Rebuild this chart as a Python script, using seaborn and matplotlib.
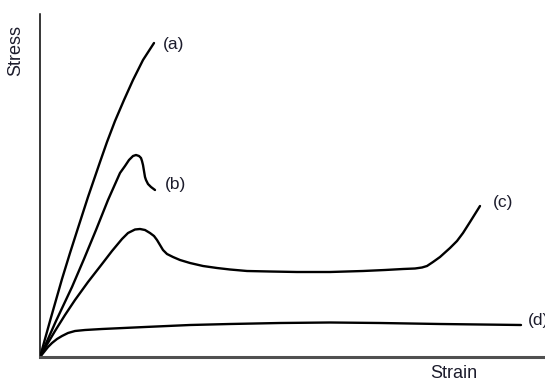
import pandas as pd
import matplotlib
matplotlib.use("Agg")
from matplotlib import pyplot as plt
import seaborn as sns

sns.set_style("white")
plt.rcParams["font.family"] = ["Liberation Sans", "DejaVu Sans"]

# curve values (strain, stress) in arbitrary units
a_x = [0, 5, 10, 16, 22, 30, 38, 48, 60, 67, 75, 84, 93, 103, 114]
a_y = [0, 18, 36, 57, 78, 104, 129, 160, 195, 215, 236, 257, 277, 297, 314]

b_x = [0, 8, 16, 24, 32, 44, 56, 68, 80, 85, 89, 93, 96, 99, 101, 102, 103, 104,
       105, 106, 108, 111, 115]
b_y = [0, 18, 36, 53, 70, 98, 127, 157, 184, 191, 197, 201, 202, 201, 199, 196,
       192, 186, 180, 177, 173, 170, 167]

c_x = [0, 7, 15, 25, 35, 48, 62, 72, 82, 88, 95, 100, 105, 110, 114, 117, 120, 123,
       127, 133, 140, 150, 163, 177, 190, 207, 230, 257, 290, 323, 345, 363, 375,
       382, 387, 393, 400, 410, 417, 423, 430, 435, 440]
c_y = [0, 12.5, 26, 42, 57, 75, 93, 106, 118, 124, 127.5, 128, 127, 124, 121, 117,
       112, 107, 103, 100, 97, 94, 91, 89, 87.5, 86, 85.5, 85, 85, 86, 87, 88,
       88.5, 89.5, 91, 95, 100, 109, 116, 124, 135, 143, 151]

d_x = [0, 4, 8, 12, 17, 22, 28, 35, 45, 62, 105, 150, 190, 240, 290, 340, 400, 481]
d_y = [0, 5, 10, 14, 18, 21, 24, 26, 27, 28, 30, 32, 33, 34, 34.5, 34, 33, 32]

labels = ["(a)", "(b)", "(c)", "(d)"]
label_x = [123, 125, 453, 488]
label_y = [313, 173, 154, 36]

curves = [(a_x, a_y), (b_x, b_y), (c_x, c_y), (d_x, d_y)]

W, H = 545, 381
fig = plt.figure(figsize=(W / 100, H / 100), dpi=100)
ax = fig.add_axes([40 / W, 24 / H, 505 / W, 343 / H])

for (xs, ys), lab in zip(curves, labels):
    df = pd.DataFrame({"strain": xs, "stress": ys})
    sns.lineplot(data=df, x="strain", y="stress", sort=False, estimator=None,
                 color="black", linewidth=1.7, ax=ax)

for lab, lx, ly in zip(labels, label_x, label_y):
    ax.text(lx, ly, lab, ha="left", va="center", fontsize=12.5, color="#1c1c2c",
            clip_on=False)

ax.set_xlim(0, 505)
ax.set_ylim(0, 343)
ax.set_xticks([])
ax.set_yticks([])
ax.set_xlabel("")
ax.set_ylabel("")
sns.despine(ax=ax, top=True, right=True)
ax.spines["left"].set_color("black")
ax.spines["left"].set_linewidth(1.1)
ax.spines["bottom"].set_color("#505050")
ax.spines["bottom"].set_linewidth(2.2)

fig.text(16 / W, 1 - 51 / H, "Stress", rotation=90, ha="center", va="center",
         fontsize=13, color="#1c1c2c")
fig.text(454 / W, 1 - 373 / H, "Strain", ha="center", va="center",
         fontsize=13, color="#1c1c2c")

fig.savefig("out.png", dpi=100)
